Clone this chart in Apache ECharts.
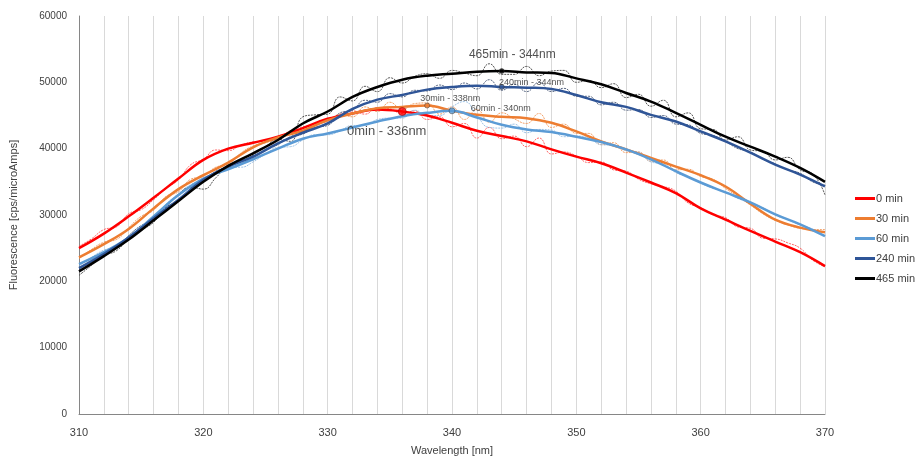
<!DOCTYPE html>
<html>
<head>
<meta charset="utf-8">
<script src="https://cdn.jsdelivr.net/npm/echarts@6/dist/echarts.min.js"></script>
<style>
  html, body { margin: 0; padding: 0; background: #fff; }
  #main { width: 916px; height: 461px; }
</style>
</head>
<body>
<div id="main"></div>
<script>
// wavelengths
var wlSmooth = [310,312,314,316,318,320,322,324,326,328,330,332,334,336,338,340,342,344,346,348,350,352,354,356,358,360,362,364,366,368,370];
var wlRaw = [310,311,312,313,314,315,316,317,318,319,320,321,322,323,324,325,326,327,328,329,330,331,332,333,334,335,336,337,338,339,340,341,342,343,344,345,346,347,348,349,350,351,352,353,354,355,356,357,358,359,360,361,362,363,364,365,366,367,368,369,370];

var seriesNames = ['0 min', '30 min', '60 min', '240 min', '465 min'];
var colors = ['#ff0000', '#ed7d31', '#5b9bd5', '#2f5597', '#000000'];
var rawColors = ['#ff4d4d', '#f0914f', '#8db8e2', '#3e4f6e', '#3a3a3a'];

// smoothed curves
var smooth0 = [25000,27200,29800,32600,35500,38300,40000,40900,41800,43100,44500,45300,45900,45600,45000,43900,42700,41900,41100,39900,38800,37800,36400,34900,33300,31000,29300,27600,26000,24400,22300];
var smooth30 = [23600,25600,27900,31000,33900,36000,37900,40200,41700,42700,44300,45300,46100,46300,46500,45700,45100,44800,44600,43900,42600,41100,39900,38600,37300,36000,34300,31700,29300,28100,27400];
var smooth60 = [22600,24400,26600,29800,33000,35500,36900,38400,40000,41500,42300,43200,44100,44900,45400,45700,44700,43600,42900,42500,41800,41000,39900,38400,36600,34900,33400,31900,30100,28600,26800];
var smooth240 = [22000,24100,26600,29500,32300,35300,37300,38800,40800,42400,43800,46000,47400,48100,48900,49300,49500,49300,49200,49000,48100,47000,46300,45100,44100,42600,41100,39400,37600,36100,34300];
var smooth465 = [21500,23800,26300,29200,32100,35000,37400,39300,41300,43800,45600,47800,49300,50400,51000,51300,51600,51700,51500,51400,50600,49700,48400,47100,45400,43600,41800,40300,38800,37100,35000];

// raw measurements
var raw0 = [25300,26400,27800,28200,30200,30800,32300,34000,35300,37600,38400,39800,39700,40500,41000,41100,41600,42700,43300,43600,44200,45200,45700,45200,46200,46000,45300,45700,44400,44800,43300,43800,41600,43200,41500,41900,40300,41600,39200,39500,38900,37900,38000,36800,36600,35400,34700,34300,33600,31800,31100,30000,29600,28200,28000,26500,26400,25800,25000,23200,22200];
var raw30 = [23400,24800,25900,26300,28100,29800,30700,32800,33500,35400,35800,37200,37600,39300,40400,40900,41500,42500,42400,43800,44000,45200,44800,46300,45600,47000,45900,46800,46900,45200,46300,44400,45900,44000,45400,44500,43800,45300,43200,43700,42300,42300,40600,40900,39400,39500,38100,38300,36800,36900,35800,35400,34000,32800,31500,30200,29200,28500,28000,27800,27800];
var raw60 = [22300,23600,24700,25200,26900,28400,29500,31600,33200,34600,35300,36100,37200,37200,38000,39200,40200,40300,41300,42100,42100,42700,43500,43500,44400,44600,44600,45800,45000,45000,46300,47100,45000,43200,43100,43700,42400,42900,42800,41800,41900,41600,40600,40500,39700,39500,38000,37700,36400,35700,34800,34000,33500,32500,31800,31100,30000,29300,28500,27900,26900];
var raw240 = [21700,23200,24300,25100,26900,28400,29200,31200,32100,34000,35000,36600,37200,38200,38700,39800,40600,41800,42200,43200,43500,45400,45800,47300,47000,48300,47800,48800,48700,49600,48900,49900,49000,50400,48800,49700,48600,50000,48600,49100,47900,47900,46600,47000,45800,45900,44700,45000,43700,43600,42300,42000,41100,40000,39500,38400,37700,36800,36300,35000,34500];
var raw465 = [20900,22400,23900,24600,26500,27700,28900,31100,33100,34200,33900,35600,37500,38000,39000,40300,41400,41100,44800,45100,45200,47800,47200,49400,48600,50700,49900,50900,51300,50600,51800,51400,51000,52800,51200,51200,52400,51000,51700,51800,50000,50300,49200,49800,47700,48200,46400,47300,44800,45400,43000,42900,41300,41800,39800,39600,38300,38700,36800,36200,33000];

// peak annotations
var peakWl = [336, 338, 340, 344, 344];
var peakVal = [45600, 46500, 45700, 49300, 51700];
var peakText = ['0min - 336nm', '30min - 338nm', '60min - 340nm', '240min - 344nm', '465min - 344nm'];

var smoothData = [smooth0, smooth30, smooth60, smooth240, smooth465];
var rawData = [raw0, raw30, raw60, raw240, raw465];

function pairs(xs, ys) {
  return xs.map(function (x, i) { return [x, ys[i]]; });
}

var font = 'Liberation Sans';
var textColor = '#404040';

var series = [];
// raw dashed traces underneath
rawData.forEach(function (d, i) {
  series.push({
    name: seriesNames[i] + ' raw',
    type: 'line',
    data: pairs(wlRaw, d),
    smooth: 0.5,
    symbol: 'none',
    silent: true,
    z: 1,
    lineStyle: { width: 1, color: rawColors[i], type: [2, 1], opacity: 0.85 }
  });
});
// thick smoothed curves
smoothData.forEach(function (d, i) {
  series.push({
    name: seriesNames[i],
    type: 'line',
    data: pairs(wlSmooth, d),
    smooth: 0.4,
    symbol: 'none',
    z: 2,
    lineStyle: { width: 2.5, color: colors[i] },
    itemStyle: { color: colors[i] }
  });
});

// label placement per peak (style only)
var labelPos = [[-51, 24], [-4, -4], [22, 1], [0, -2], [-30, -14]];
var labelSize = [13, 9, 9, 9, 12];
var symSize = [8, 5, 6, 5, 5];

series.push({
  name: 'peaks',
  type: 'scatter',
  z: 5,
  data: peakWl.map(function (w, i) {
    return {
      value: [w, peakVal[i]],
      symbolSize: symSize[i],
      itemStyle: { color: colors[i], borderColor: i === 0 ? '#7f0000' : '#333', borderWidth: 0.6 },
      label: {
        show: true,
        formatter: peakText[i],
        position: labelPos[i],
        align: 'left',
        verticalAlign: 'middle',
        fontSize: labelSize[i],
        fontFamily: font,
        color: '#262626'
      }
    };
  })
});

var myChart = echarts.init(document.getElementById('main'));
myChart.setOption({
  animation: false,
  backgroundColor: '#fff',
  grid: { left: 77, right: 91, top: 16, bottom: 46 },
  legend: {
    data: seriesNames,
    orient: 'vertical',
    left: 850,
    top: 188,
    itemWidth: 20,
    itemHeight: 3,
    itemGap: 9,
    icon: 'rect',
    textStyle: { fontFamily: font, fontSize: 11, color: textColor, padding: [0, 0, 0, -4] }
  },
  xAxis: {
    type: 'value',
    min: 310,
    max: 370,
    interval: 2,
    name: 'Wavelength [nm]',
    nameLocation: 'middle',
    nameGap: 31,
    nameTextStyle: { fontFamily: font, fontSize: 11, color: textColor },
    axisLine: { show: true, lineStyle: { color: '#868686' } },
    axisTick: { show: false },
    axisLabel: {
      fontFamily: font,
      fontSize: 11,
      color: textColor,
      margin: 13,
      formatter: function (v) { return v % 10 === 0 ? String(v) : ''; }
    },
    splitLine: { show: true, lineStyle: { color: '#d9d9d9', width: 1 } }
  },
  yAxis: {
    type: 'value',
    min: 0,
    max: 60000,
    interval: 10000,
    name: 'Fluorescence [cps/microAmps]',
    nameLocation: 'middle',
    nameGap: 60,
    nameTextStyle: { fontFamily: font, fontSize: 11, color: textColor },
    axisLine: { show: true, lineStyle: { color: '#868686' } },
    axisTick: { show: false },
    axisLabel: {
      fontFamily: font, fontSize: 10, color: textColor, margin: 12,
      formatter: function (v) { return String(v); }
    },
    splitLine: { show: false }
  },
  series: series
});
</script>
</body>
</html>
